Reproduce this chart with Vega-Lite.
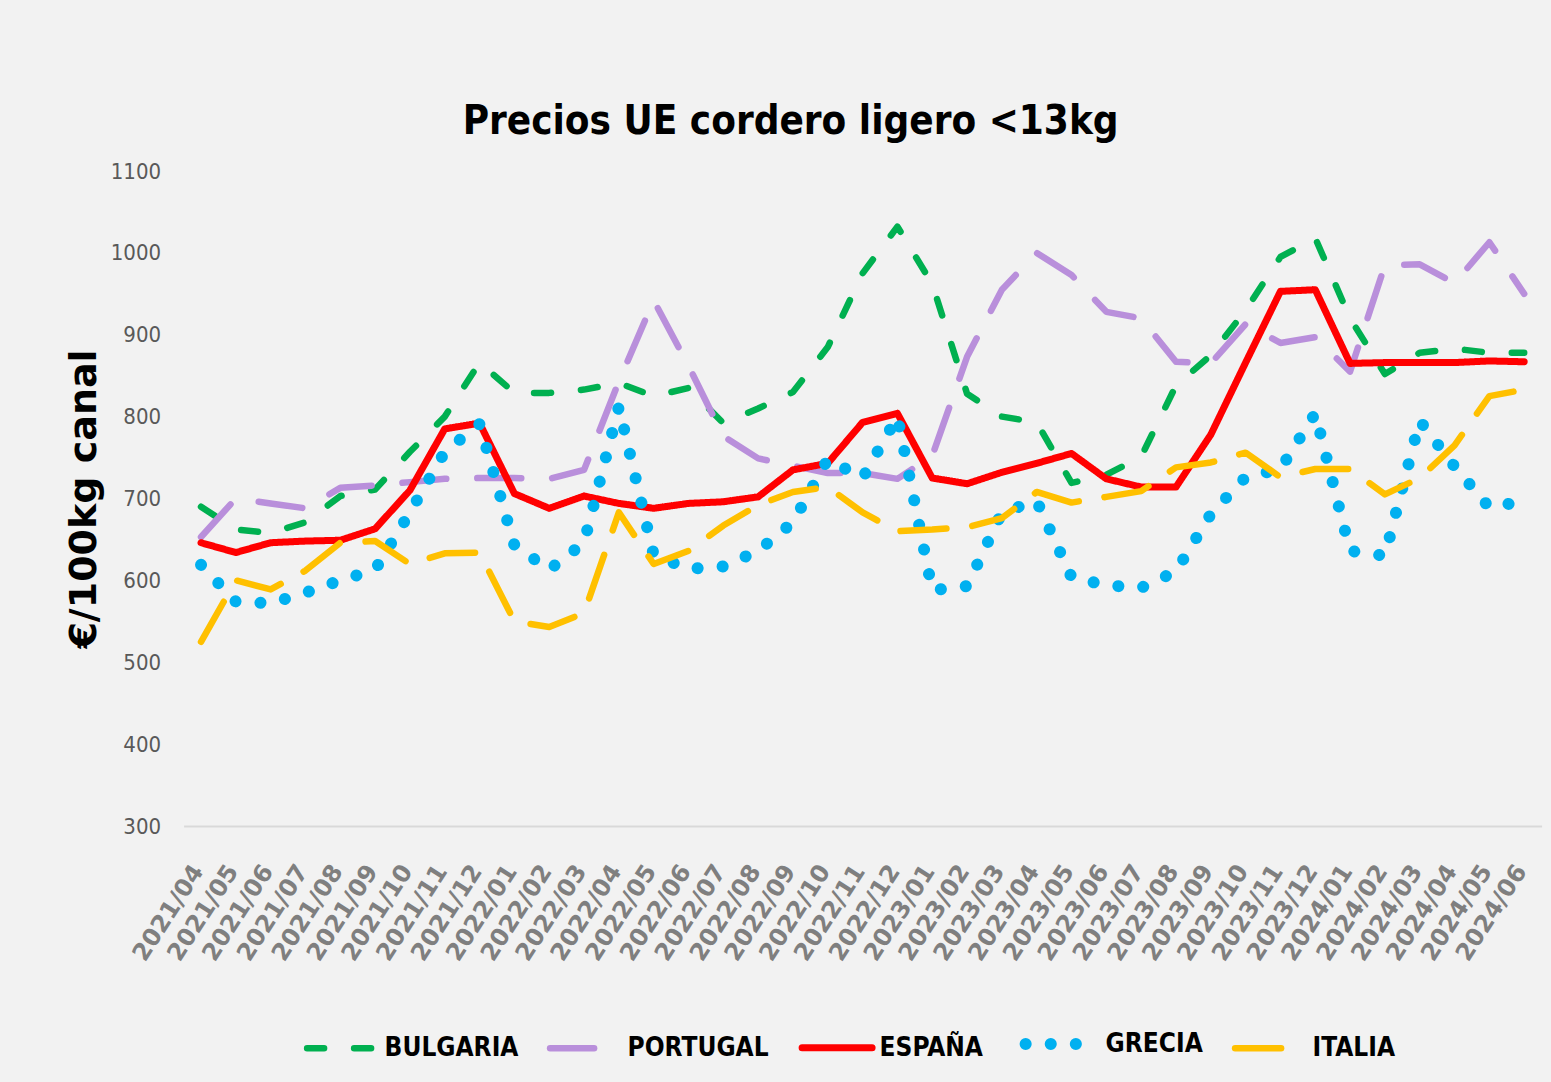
{
  "$schema": "https://vega.github.io/schema/vega-lite/v6.json",
  "width": 1358,
  "height": 655,
  "autosize": "none",
  "padding": {"left": 183.6, "top": 171, "right": 9.4, "bottom": 256},
  "background": "#f2f2f2",
  "config": {"view": {"stroke": null}},
  "title": {
    "text": "Precios UE cordero ligero <13kg",
    "anchor": "middle",
    "dx": -72,
    "dy": 41,
    "offset": 27,
    "baseline": "alphabetic",
    "font": "DejaVu Sans Condensed, sans-serif",
    "fontSize": 40,
    "fontWeight": "bold",
    "color": "#000000"
  },
  "data": {"values": [
    {"m":"2021/04","c":"BULGARIA","v":690},{"m":"2021/05","c":"BULGARIA","v":662},{"m":"2021/06","c":"BULGARIA","v":658},{"m":"2021/07","c":"BULGARIA","v":671},{"m":"2021/08","c":"BULGARIA","v":703},{"m":"2021/09","c":"BULGARIA","v":711},{"m":"2021/10","c":"BULGARIA","v":757},{"m":"2021/11","c":"BULGARIA","v":800},{"m":"2021/12","c":"BULGARIA","v":866},
    {"m":"2022/01","c":"BULGARIA","v":829},{"m":"2022/02","c":"BULGARIA","v":829},{"m":"2022/03","c":"BULGARIA","v":833},{"m":"2022/04","c":"BULGARIA","v":841},{"m":"2022/05","c":"BULGARIA","v":825},{"m":"2022/06","c":"BULGARIA","v":835},{"m":"2022/07","c":"BULGARIA","v":792},{"m":"2022/08","c":"BULGARIA","v":810},{"m":"2022/09","c":"BULGARIA","v":830},{"m":"2022/10","c":"BULGARIA","v":885},{"m":"2022/11","c":"BULGARIA","v":975},{"m":"2022/12","c":"BULGARIA","v":1032},
    {"m":"2023/01","c":"BULGARIA","v":962},{"m":"2023/02","c":"BULGARIA","v":828},{"m":"2023/03","c":"BULGARIA","v":800},{"m":"2023/04","c":"BULGARIA","v":793},{"m":"2023/05","c":"BULGARIA","v":719},{"m":"2023/06","c":"BULGARIA","v":729},{"m":"2023/07","c":"BULGARIA","v":751},{"m":"2023/08","c":"BULGARIA","v":838},{"m":"2023/09","c":"BULGARIA","v":875},{"m":"2023/10","c":"BULGARIA","v":930},{"m":"2023/11","c":"BULGARIA","v":995},{"m":"2023/12","c":"BULGARIA","v":1018},
    {"m":"2024/01","c":"BULGARIA","v":920},{"m":"2024/02","c":"BULGARIA","v":852},{"m":"2024/03","c":"BULGARIA","v":878},{"m":"2024/04","c":"BULGARIA","v":883},{"m":"2024/05","c":"BULGARIA","v":878},{"m":"2024/06","c":"BULGARIA","v":878},

    {"m":"2021/04","c":"PORTUGAL","v":653},{"m":"2021/05","c":"PORTUGAL","v":700},{"m":"2021/06","c":"PORTUGAL","v":694},{"m":"2021/07","c":"PORTUGAL","v":688},{"m":"2021/08","c":"PORTUGAL","v":713},{"m":"2021/09","c":"PORTUGAL","v":716},{"m":"2021/10","c":"PORTUGAL","v":720},{"m":"2021/11","c":"PORTUGAL","v":724},{"m":"2021/12","c":"PORTUGAL","v":725},
    {"m":"2022/01","c":"PORTUGAL","v":725},{"m":"2022/02","c":"PORTUGAL","v":724},{"m":"2022/03","c":"PORTUGAL","v":735},{"m":"2022/04","c":"PORTUGAL","v":843},{"m":"2022/05","c":"PORTUGAL","v":942},{"m":"2022/06","c":"PORTUGAL","v":862},{"m":"2022/07","c":"PORTUGAL","v":776},{"m":"2022/08","c":"PORTUGAL","v":749},{"m":"2022/09","c":"PORTUGAL","v":740},{"m":"2022/10","c":"PORTUGAL","v":731},{"m":"2022/11","c":"PORTUGAL","v":731},{"m":"2022/12","c":"PORTUGAL","v":724},
    {"m":"2023/01","c":"PORTUGAL","v":752},{"m":"2023/02","c":"PORTUGAL","v":873},{"m":"2023/03","c":"PORTUGAL","v":955},{"m":"2023/04","c":"PORTUGAL","v":1000},{"m":"2023/05","c":"PORTUGAL","v":973},{"m":"2023/06","c":"PORTUGAL","v":928},{"m":"2023/07","c":"PORTUGAL","v":920},{"m":"2023/08","c":"PORTUGAL","v":867},{"m":"2023/09","c":"PORTUGAL","v":865},{"m":"2023/10","c":"PORTUGAL","v":913},{"m":"2023/11","c":"PORTUGAL","v":890},{"m":"2023/12","c":"PORTUGAL","v":897},
    {"m":"2024/01","c":"PORTUGAL","v":855},{"m":"2024/02","c":"PORTUGAL","v":985},{"m":"2024/03","c":"PORTUGAL","v":986},{"m":"2024/04","c":"PORTUGAL","v":963},{"m":"2024/05","c":"PORTUGAL","v":1013},{"m":"2024/06","c":"PORTUGAL","v":950},

    {"m":"2021/04","c":"ESPAÑA","v":646},{"m":"2021/05","c":"ESPAÑA","v":634},{"m":"2021/06","c":"ESPAÑA","v":646},{"m":"2021/07","c":"ESPAÑA","v":648},{"m":"2021/08","c":"ESPAÑA","v":649},{"m":"2021/09","c":"ESPAÑA","v":663},{"m":"2021/10","c":"ESPAÑA","v":710},{"m":"2021/11","c":"ESPAÑA","v":785},{"m":"2021/12","c":"ESPAÑA","v":792},
    {"m":"2022/01","c":"ESPAÑA","v":706},{"m":"2022/02","c":"ESPAÑA","v":688},{"m":"2022/03","c":"ESPAÑA","v":703},{"m":"2022/04","c":"ESPAÑA","v":694},{"m":"2022/05","c":"ESPAÑA","v":688},{"m":"2022/06","c":"ESPAÑA","v":694},{"m":"2022/07","c":"ESPAÑA","v":696},{"m":"2022/08","c":"ESPAÑA","v":702},{"m":"2022/09","c":"ESPAÑA","v":735},{"m":"2022/10","c":"ESPAÑA","v":743},{"m":"2022/11","c":"ESPAÑA","v":793},{"m":"2022/12","c":"ESPAÑA","v":804},
    {"m":"2023/01","c":"ESPAÑA","v":725},{"m":"2023/02","c":"ESPAÑA","v":718},{"m":"2023/03","c":"ESPAÑA","v":732},{"m":"2023/04","c":"ESPAÑA","v":743},{"m":"2023/05","c":"ESPAÑA","v":755},{"m":"2023/06","c":"ESPAÑA","v":724},{"m":"2023/07","c":"ESPAÑA","v":714},{"m":"2023/08","c":"ESPAÑA","v":714},{"m":"2023/09","c":"ESPAÑA","v":778},{"m":"2023/10","c":"ESPAÑA","v":866},{"m":"2023/11","c":"ESPAÑA","v":953},{"m":"2023/12","c":"ESPAÑA","v":955},
    {"m":"2024/01","c":"ESPAÑA","v":865},{"m":"2024/02","c":"ESPAÑA","v":866},{"m":"2024/03","c":"ESPAÑA","v":866},{"m":"2024/04","c":"ESPAÑA","v":866},{"m":"2024/05","c":"ESPAÑA","v":868},{"m":"2024/06","c":"ESPAÑA","v":867},

    {"m":"2021/04","c":"GRECIA","v":619},{"m":"2021/05","c":"GRECIA","v":574},{"m":"2021/06","c":"GRECIA","v":572},{"m":"2021/07","c":"GRECIA","v":585},{"m":"2021/08","c":"GRECIA","v":600},{"m":"2021/09","c":"GRECIA","v":613},{"m":"2021/10","c":"GRECIA","v":683},{"m":"2021/11","c":"GRECIA","v":757},{"m":"2021/12","c":"GRECIA","v":791},
    {"m":"2022/01","c":"GRECIA","v":643},{"m":"2022/02","c":"GRECIA","v":613},{"m":"2022/03","c":"GRECIA","v":646},{"m":"2022/04","c":"GRECIA","v":812},{"m":"2022/05","c":"GRECIA","v":631},{"m":"2022/06","c":"GRECIA","v":614},{"m":"2022/07","c":"GRECIA","v":617},{"m":"2022/08","c":"GRECIA","v":636},{"m":"2022/09","c":"GRECIA","v":671},{"m":"2022/10","c":"GRECIA","v":748},{"m":"2022/11","c":"GRECIA","v":725},{"m":"2022/12","c":"GRECIA","v":800},
    {"m":"2023/01","c":"GRECIA","v":588},{"m":"2023/02","c":"GRECIA","v":593},{"m":"2023/03","c":"GRECIA","v":683},{"m":"2023/04","c":"GRECIA","v":697},{"m":"2023/05","c":"GRECIA","v":604},{"m":"2023/06","c":"GRECIA","v":594},{"m":"2023/07","c":"GRECIA","v":591},{"m":"2023/08","c":"GRECIA","v":611},{"m":"2023/09","c":"GRECIA","v":681},{"m":"2023/10","c":"GRECIA","v":726},{"m":"2023/11","c":"GRECIA","v":736},{"m":"2023/12","c":"GRECIA","v":804},
    {"m":"2024/01","c":"GRECIA","v":636},{"m":"2024/02","c":"GRECIA","v":630},{"m":"2024/03","c":"GRECIA","v":795},{"m":"2024/04","c":"GRECIA","v":739},{"m":"2024/05","c":"GRECIA","v":689},{"m":"2024/06","c":"GRECIA","v":697},

    {"m":"2021/04","c":"ITALIA","v":525},{"m":"2021/05","c":"ITALIA","v":600},{"m":"2021/06","c":"ITALIA","v":589},{"m":"2021/07","c":"ITALIA","v":612},{"m":"2021/08","c":"ITALIA","v":646},{"m":"2021/09","c":"ITALIA","v":648},{"m":"2021/10","c":"ITALIA","v":620},{"m":"2021/11","c":"ITALIA","v":633},{"m":"2021/12","c":"ITALIA","v":634},
    {"m":"2022/01","c":"ITALIA","v":550},{"m":"2022/02","c":"ITALIA","v":543},{"m":"2022/03","c":"ITALIA","v":560},{"m":"2022/04","c":"ITALIA","v":683},{"m":"2022/05","c":"ITALIA","v":620},{"m":"2022/06","c":"ITALIA","v":636},{"m":"2022/07","c":"ITALIA","v":667},{"m":"2022/08","c":"ITALIA","v":692},{"m":"2022/09","c":"ITALIA","v":708},{"m":"2022/10","c":"ITALIA","v":714},{"m":"2022/11","c":"ITALIA","v":683},{"m":"2022/12","c":"ITALIA","v":660},
    {"m":"2023/01","c":"ITALIA","v":662},{"m":"2023/02","c":"ITALIA","v":665},{"m":"2023/03","c":"ITALIA","v":676},{"m":"2023/04","c":"ITALIA","v":708},{"m":"2023/05","c":"ITALIA","v":695},{"m":"2023/06","c":"ITALIA","v":702},{"m":"2023/07","c":"ITALIA","v":709},{"m":"2023/08","c":"ITALIA","v":738},{"m":"2023/09","c":"ITALIA","v":744},{"m":"2023/10","c":"ITALIA","v":756},{"m":"2023/11","c":"ITALIA","v":726},{"m":"2023/12","c":"ITALIA","v":736},
    {"m":"2024/01","c":"ITALIA","v":736},{"m":"2024/02","c":"ITALIA","v":705},{"m":"2024/03","c":"ITALIA","v":725},{"m":"2024/04","c":"ITALIA","v":765},{"m":"2024/05","c":"ITALIA","v":825},{"m":"2024/06","c":"ITALIA","v":833}
  ]},
  "mark": {"type": "line", "strokeCap": "round", "strokeJoin": "round"},
  "encoding": {
    "x": {
      "field": "m", "type": "ordinal",
      "scale": {"type": "point", "padding": 0.5},
      "axis": {
        "title": null,
        "domainColor": "#d9d9d9", "domainWidth": 2,
        "ticks": false, "grid": false,
        "labelAngle": -57, "labelAlign": "right", "labelBaseline": "middle",
        "labelPadding": 41, "labelOffset": -3,
        "labelFont": "DejaVu Sans", "labelFontSize": 24, "labelFontWeight": "bold",
        "labelColor": "#7f7f7f", "labelOverlap": false, "labelBound": false, "labelFlush": false
      }
    },
    "y": {
      "field": "v", "type": "quantitative",
      "scale": {"domain": [300, 1100], "nice": false, "zero": false},
      "axis": {
        "values": [300, 400, 500, 600, 700, 800, 900, 1000, 1100],
        "format": "d",
        "grid": false, "domain": false, "ticks": false,
        "labelPadding": 23, "labelFont": "DejaVu Sans Condensed, sans-serif",
        "labelFontSize": 22, "labelColor": "#595959",
        "title": "€/100kg canal", "titleFont": "DejaVu Sans", "titleFontSize": 38,
        "titleFontWeight": "bold", "titleColor": "#000000", "titlePadding": 7
      }
    },
    "color": {
      "field": "c", "type": "nominal",
      "scale": {
        "domain": ["BULGARIA", "PORTUGAL", "ESPAÑA", "GRECIA", "ITALIA"],
        "range": ["#00b050", "#b98fdb", "#ff0000", "#00b0f0", "#ffc000"]
      },
      "legend": {
        "title": null, "orient": "none", "direction": "horizontal",
        "legendX": 120, "legendY": 832,
        "symbolType": "stroke", "symbolSize": 4900, "symbolStrokeWidth": 8,
        "labelFont": "DejaVu Sans Condensed, sans-serif",
        "labelFontSize": 26, "labelFontWeight": "bold", "labelColor": "#000000",
        "labelOffset": 4, "columnPadding": 18, "labelLimit": 0,
        "encode": {"symbols": {"update": {
          "strokeDash": {"signal": "datum.value === 'PORTUGAL' || datum.value === 'ITALIA' ? [42, 18, 0.1, 40] : datum.value === 'BULGARIA' ? [17, 30] : datum.value === 'GRECIA' ? [0.1, 25] : [1, 0]"},
          "strokeWidth": {"signal": "datum.value === 'GRECIA' ? 12 : 8"},
          "strokeCap": {"value": "round"}
        }}}
      }
    },
    "strokeDash": {
      "field": "c", "type": "nominal",
      "scale": {
        "domain": ["BULGARIA", "PORTUGAL", "ESPAÑA", "GRECIA", "ITALIA"],
        "range": [[17, 30], [44, 31], [1, 0], [0.1, 25], [46, 26]]
      },
      "legend": null
    },
    "strokeWidth": {
      "field": "c", "type": "nominal",
      "scale": {"type": "ordinal",
        "domain": ["BULGARIA", "PORTUGAL", "ESPAÑA", "GRECIA", "ITALIA"],
        "range": [6.5, 6.5, 7, 12, 6.5]
      },
      "legend": null
    }
  }
}
